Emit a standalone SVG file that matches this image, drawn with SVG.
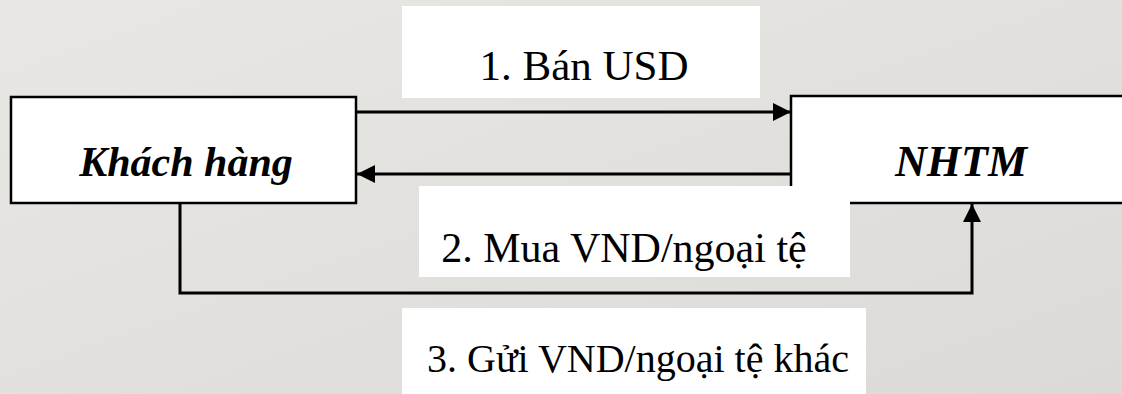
<svg xmlns="http://www.w3.org/2000/svg" width="1122" height="394" viewBox="0 0 1122 394">
  <defs>
    <linearGradient id="bg" x1="0" y1="0" x2="1" y2="1">
      <stop offset="0" stop-color="#e9e7e3"/>
      <stop offset="1" stop-color="#dcdad6"/>
    </linearGradient>
    <marker id="arr" viewBox="0 0 18 18" markerWidth="18" markerHeight="18" refX="18" refY="9" orient="auto" markerUnits="userSpaceOnUse">
      <path d="M0,0 L18,9 L0,18 Z" fill="#000"/>
    </marker>
    <style>
      .node { fill: #fff; stroke: #000; stroke-width: 2.5; }
      .lbl { fill: #fff; stroke: none; }
      .conn { fill: none; stroke: #000; stroke-width: 3; }
    </style>
  </defs>
  <rect x="0" y="0" width="1122" height="394" fill="url(#bg)"/>

  <g id="node-khachhang">
    <rect class="node" x="11" y="97" width="345" height="106"/>
    <text x="186" y="176" font-family="Liberation Serif, Times New Roman, serif" font-size="42" font-weight="bold" font-style="italic" text-anchor="middle" fill="#000">Khách hàng</text>
  </g>
  <g id="node-nhtm">
    <rect class="node" x="791" y="96" width="345" height="107"/>
    <text x="961" y="176" font-family="Liberation Serif, Times New Roman, serif" font-size="44" font-weight="bold" font-style="italic" text-anchor="middle" fill="#000">NHTM</text>
  </g>

  <g id="connectors">
    <line class="conn" x1="356" y1="112" x2="791" y2="112" marker-end="url(#arr)"/>
    <line class="conn" x1="791" y1="174" x2="357" y2="174" marker-end="url(#arr)"/>
    <path class="conn" d="M180,203 V293 H972 V204" marker-end="url(#arr)"/>
  </g>

  <g id="label-1">
    <rect class="lbl" x="402" y="6" width="358" height="92"/>
    <text x="584" y="80" font-family="Liberation Serif, Times New Roman, serif" font-size="43" text-anchor="middle" fill="#000">1. Bán USD</text>
  </g>
  <g id="label-2">
    <rect class="lbl" x="419" y="186" width="431" height="91"/>
    <text x="624" y="262" font-family="Liberation Serif, Times New Roman, serif" font-size="42" text-anchor="middle" fill="#000">2. Mua VND/ngoại tệ</text>
  </g>
  <g id="label-3">
    <rect class="lbl" x="402" y="308" width="464" height="90"/>
    <text x="638" y="372" font-family="Liberation Serif, Times New Roman, serif" font-size="40" text-anchor="middle" fill="#000">3. Gửi VND/ngoại tệ khác</text>
  </g>
</svg>
